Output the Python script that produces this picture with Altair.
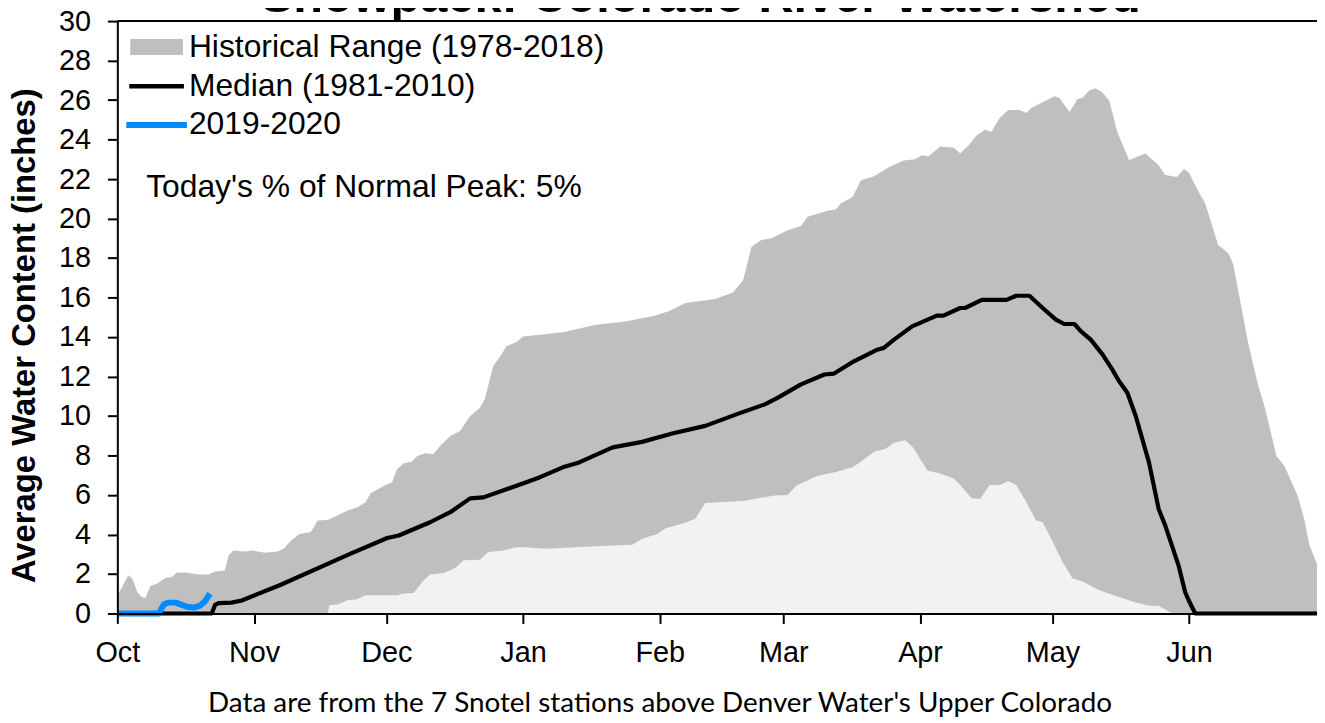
import altair as alt
import pandas as pd

# ---------------- data ----------------
month_labels = ["Oct", "Nov", "Dec", "Jan", "Feb", "Mar", "Apr", "May", "Jun"]
month_start_days = [0, 31, 61, 92, 123, 151, 182, 212, 243]
y_ticks = list(range(0, 31, 2))

# Historical range upper envelope (days since Oct 1, inches)
max_days = [0, 2.5, 3.4, 4.5, 5.5, 6.4, 7.5, 9, 10.9, 12.4, 13.5, 15.4, 18.4, 20.7, 22.2, 24.4,
            25.2, 26.3, 28.9, 30.8, 33.4, 36.4, 37.9, 39.4, 41.3, 43.9, 45.4, 47.7, 49.9, 52.2,
            54.4, 56.3, 57.4, 60.5, 62.3, 63.4, 65, 66.8, 68, 69.8, 71.7, 73.2, 75.5, 77.7, 80,
            82.2, 83.3, 85.2, 87.1, 88.2, 90.5, 92, 101, 108.5, 115.2, 122, 125, 128.8, 135.5,
            139.6, 141.9, 143.8, 146, 148.3, 152, 155, 156.5, 161, 162.9, 164, 166.7, 168.6,
            171.6, 174.9, 178.3, 180.9, 182.4, 183.9, 186.6, 189.6, 191.1, 193, 194.8, 196.7,
            198.2, 200.1, 202, 204.6, 206.1, 207.2, 209.9, 212.5, 213.6, 215.9, 217.7, 218.8,
            220.4, 221.8, 223.3, 224.9, 226.7, 229.4, 230.9, 233.1, 236.1, 237.6, 240.2, 241.8,
            242.9, 245.5, 246.6, 249.6, 251.9, 253, 256.4, 258.6, 260.1, 262.8, 264.6, 267.6,
            269.1, 270.3, 272]
max_vals = [0.9, 1.93, 1.76, 1.09, 0.84, 0.79, 1.40, 1.51, 1.80, 1.85, 2.07, 2.07, 1.97, 1.98, 2.13,
            2.18, 2.94, 3.19, 3.14, 3.19, 3.08, 3.14, 3.31, 3.70, 4.03, 4.12, 4.71, 4.74, 4.96, 5.21,
            5.38, 5.63, 6.09, 6.47, 6.64, 7.31, 7.61, 7.68, 7.98, 8.12, 8.07, 8.49, 8.99, 9.24, 10.0,
            10.42, 10.84, 12.52, 13.11, 13.53, 13.75, 14.03, 14.24, 14.62, 14.79, 15.09, 15.30, 15.72,
            15.92, 16.25, 16.89, 18.57, 18.91, 19.0, 19.41, 19.62, 20.09, 20.39, 20.46, 20.76, 21.09,
            21.94, 22.14, 22.6, 22.94, 23.0, 23.2, 23.15, 23.65, 23.6, 23.3, 23.7, 24.2, 24.5, 24.4,
            25.1, 25.5, 25.5, 25.35, 25.6, 25.9, 26.2, 26.1, 25.4, 26.05, 26.1, 26.5, 26.6, 26.4,
            25.97, 24.4, 22.95, 23.1, 23.3, 22.7, 22.2, 22.1, 22.5, 22.35, 21.2, 20.8, 18.66, 18.24,
            17.7, 13.7, 11.6, 10.5, 7.98, 7.48, 5.97, 4.79, 3.44, 2.5]

# Historical range lower envelope
min_days = [0, 47.7, 48.1, 49.9, 52.2, 54.4, 56.3, 63.4, 65, 67.2, 69.1, 70.9, 74, 76.6, 78.5, 82.2,
            84.1, 87.5, 90.5, 92, 97.2, 108.5, 116.8, 119, 122.4, 124.3, 128, 131, 133.3, 138.5,
            142.3, 145.3, 149, 152, 153.9, 158.8, 162.5, 166.7, 168.9, 171.6, 174.2, 176.1, 178.7,
            180.4, 183.7, 186.4, 189.6, 191.1, 193.7, 195.6, 197.8, 200.1, 202, 203.8, 206.1, 208.3,
            209.8, 212.1, 214.3, 216.6, 218.8, 222.6, 227.1, 230.9, 233.9, 236.1, 238.4, 239.5, 272]
min_vals = [0, 0, 0.42, 0.45, 0.67, 0.72, 0.92, 0.92, 1.01, 1.04, 1.6, 1.97, 2.05, 2.30, 2.69, 2.72,
            3.11, 3.19, 3.36, 3.36, 3.28, 3.41, 3.48, 3.78, 4.03, 4.32, 4.54, 4.79, 5.60, 5.66, 5.71,
            5.83, 5.97, 6.0, 6.47, 6.97, 7.14, 7.40, 7.73, 8.19, 8.34, 8.64, 8.77, 8.4, 7.23, 7.1,
            6.84, 6.51, 5.83, 5.80, 6.51, 6.51, 6.69, 6.51, 5.63, 4.71, 4.62, 3.62, 2.61, 1.77, 1.63,
            1.18, 0.84, 0.55, 0.39, 0.39, 0.1, 0, 0]

# Median (1981-2010)
median_days = [0, 21.4, 22.2, 23, 25.9, 28.2, 36.8, 52.9, 61.2, 63.8, 70.9, 75.5, 80, 83, 90.5, 95.7,
               101, 104.7, 112.3, 119, 125.8, 133.3, 140.8, 146.8, 149.8, 155, 160.3, 162.5, 167,
               172.3, 173.8, 176.1, 180.2, 185.8, 187.3, 191.1, 192.2, 196, 201.6, 203.8, 206.8,
               209.8, 212.8, 214.7, 217, 218.5, 220.7, 223.4, 225.6, 227.1, 229, 230.9, 233.9, 236.1,
               237.6, 240.6, 242.1, 242.9, 244.4, 272]
median_vals = [0, 0, 0.45, 0.52, 0.55, 0.66, 1.43, 3.03, 3.82, 3.95, 4.62, 5.13, 5.83, 5.88, 6.47, 6.89,
               7.40, 7.65, 8.41, 8.69, 9.11, 9.5, 10.12, 10.59, 10.93, 11.6, 12.1, 12.15, 12.77, 13.36,
               13.45, 13.87, 14.54, 15.08, 15.08, 15.47, 15.47, 15.88, 15.88, 16.09, 16.09, 15.47,
               14.88, 14.66, 14.66, 14.29, 13.87, 13.11, 12.35, 11.77, 11.18, 10.0, 7.65, 5.29, 4.45,
               2.44, 1.09, 0.67, 0, 0]

# 2019-2020 season
current_days = [0, 9.4, 10.5, 11.5, 13.2, 14.5, 15.8, 17.3, 18.8, 19.9, 21]
current_vals = [0, 0, 0.45, 0.55, 0.55, 0.45, 0.34, 0.3, 0.4, 0.62, 1.0]

legend_labels = ["Historical Range (1978-2018)", "Median (1981-2010)", "2019-2020"]
annotation_text = "Today's % of Normal Peak: 5%"
title_text = "Snowpack: Colorado River Watershed"
footer_text = "Data are from the 7 Snotel stations above Denver Water's Upper Colorado"
y_title = "Average Water Content (inches)"

# ---------------- styling ----------------
FONT = "Liberation Sans"
W, H = 1207, 596
GRAY = "#BFBFBF"
BG = "#F2F2F2"
BLUE = "#008CFF"

x_scale = alt.Scale(domain=[0, 272], nice=False, zero=False)
y_scale = alt.Scale(domain=[0, 30], nice=False)

days_js = "[" + ",".join(str(d) for d in month_start_days) + "]"
labs_js = "[" + ",".join("'" + m + "'" for m in month_labels) + "]"

x_axis = alt.Axis(values=month_start_days,
                  labelExpr=f"{labs_js}[indexof({days_js}, datum.value)]",
                  title=None, grid=False, domainColor="black", domainWidth=2,
                  tickColor="black", tickWidth=2, tickSize=10, labelFont=FONT,
                  labelFontSize=29, labelColor="black", labelPadding=15,
                  labelFlush=False, labelOverlap=False, zindex=1)
y_axis = alt.Axis(values=y_ticks, title=y_title, grid=False, domainColor="black",
                  domainWidth=2, tickColor="black", tickWidth=2, tickSize=10,
                  labelFont=FONT, labelFontSize=29, labelColor="black", labelPadding=17,
                  titleFont=FONT, titleFontSize=33, titleFontWeight="bold",
                  titleColor="black", titleX=-83, titleY=316, titleAngle=270,
                  titleAlign="center", titleBaseline="alphabetic", zindex=1)

X = alt.X("day:Q", scale=x_scale, axis=x_axis)
Y = alt.Y("value:Q", scale=y_scale, axis=y_axis)

df_max = pd.DataFrame({"day": max_days, "value": max_vals})
df_min = pd.DataFrame({"day": min_days, "value": min_vals})
df_med = pd.DataFrame({"day": median_days, "value": median_vals})
df_cur = pd.DataFrame({"day": current_days, "value": current_vals})
one = pd.DataFrame({"k": [0]})

upper = alt.Chart(df_max).mark_area(color=GRAY, opacity=1).encode(x=X, y=Y)
lower = alt.Chart(df_min).mark_area(color=BG, opacity=1).encode(x=X, y=Y)
median = alt.Chart(df_med).mark_line(color="black", strokeWidth=4.2, strokeJoin="round").encode(x=X, y=Y)
current = alt.Chart(df_cur).mark_line(color=BLUE, strokeWidth=6, strokeJoin="round").encode(x=X, y=Y)

top_border = alt.Chart(one).mark_rule(color="black", strokeWidth=2).encode(
    x=alt.value(0), x2=alt.value(W), y=alt.value(0))

leg_rect = alt.Chart(one).mark_rect(color=GRAY).encode(
    x=alt.value(13), x2=alt.value(66), y=alt.value(18), y2=alt.value(34))
leg_black = alt.Chart(one).mark_rule(color="black", strokeWidth=4.5).encode(
    x=alt.value(12), x2=alt.value(67), y=alt.value(65.5))
leg_blue = alt.Chart(one).mark_rule(color=BLUE, strokeWidth=6).encode(
    x=alt.value(9), x2=alt.value(70), y=alt.value(104.5))

def txt(s, x, y, size, align="left", weight="normal", font=FONT):
    return alt.Chart(one).mark_text(text=s, align=align, baseline="alphabetic",
                                    fontSize=size, font=font, fontWeight=weight,
                                    color="black").encode(x=alt.value(x), y=alt.value(y))

leg_t1 = txt(legend_labels[0], 72, 36, 32)
leg_t2 = txt(legend_labels[1], 72, 75, 32)
leg_t3 = txt(legend_labels[2], 72, 114, 32)
annot = txt(annotation_text, 29, 177, 32)
title = txt(title_text, 587, -9, 49, align="center", weight="bold")
footer = txt(footer_text, 546, 695, 28, align="center", font="Lato")

chart = alt.layer(
    upper, lower, median, current, top_border,
    leg_rect, leg_black, leg_blue, leg_t1, leg_t2, leg_t3, annot, title, footer
).properties(
    width=W, height=H,
    autosize=alt.AutoSizeParams(type="none"),
    padding={"left": 110, "top": 11, "right": 0, "bottom": 104},
).configure_view(fill=BG, strokeOpacity=0).configure(background="white")

chart.save("out.html", embed_options={"renderer": "svg", "actions": False})
